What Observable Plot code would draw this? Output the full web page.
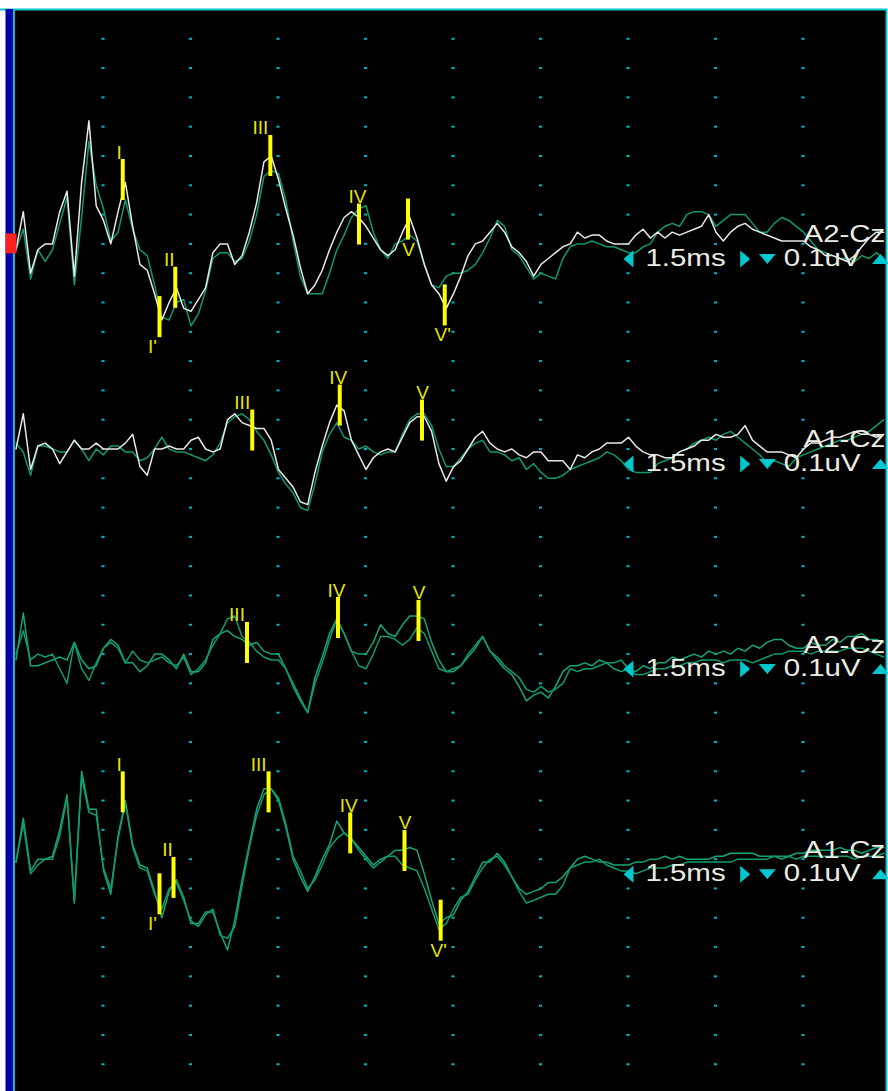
<!DOCTYPE html>
<html><head><meta charset="utf-8">
<script src="https://cdn.jsdelivr.net/npm/d3@7"></script>
<script src="https://cdn.jsdelivr.net/npm/@observablehq/plot@0.6"></script>
<style>html,body{margin:0;padding:0;background:#fff;} svg{display:block;}</style>
</head><body><div id="chart"></div>
<script>
// ---- data ----
const sampleStepMs = 0.125;               // sample interval (ms)
const channelNames = ["A2-Cz", "A1-Cz", "A2-Cz", "A1-Cz"];
const channelOffsets = [0.8, 1.5, 2.2, 2.9]; // display offset of each channel baseline (µV, 0.1 µV/div)
const timebaseLabel = "1.5ms";
const sensitivityLabel = "0.1uV";
const gridTimes = [1.5, 3, 4.5, 6, 7.5, 9, 10.5, 12, 13.5];

// amplitudes in µV, one value every 0.125 ms
const ch1White = [
-0.02,0.11,-0.10,-0.02,0.00,0.00,0.11,0.18,-0.11,0.21,
0.42,0.13,0.08,0.00,0.11,0.21,0.06,-0.07,-0.09,-0.17,
-0.26,-0.20,-0.15,-0.22,-0.23,-0.19,-0.15,-0.03,0.00,0.00,
-0.07,-0.04,0.04,0.14,0.28,0.30,0.22,0.12,0.03,-0.08,
-0.17,-0.14,-0.09,-0.02,0.04,0.09,0.11,0.09,0.06,0.02,
-0.02,-0.04,-0.02,0.04,0.09,0.02,-0.07,-0.14,-0.17,-0.22,
-0.17,-0.11,-0.04,0.00,0.01,0.04,0.07,0.04,-0.01,-0.03,
-0.06,-0.11,-0.07,-0.05,-0.03,-0.01,0.00,0.04,0.02,0.03,
0.03,0.01,0.00,0.00,0.00,0.03,0.05,0.02,0.04,0.02,
0.04,0.03,0.04,0.05,0.06,0.10,0.04,0.01,0.04,0.06,
0.07,0.05,0.04,0.03,0.02,0.01,0.01,0.01,0.01,-0.01,
-0.02,-0.04,-0.04,-0.05,-0.06,-0.04,-0.01,0.02,0.04,0.04];
const ch1Green = [
-0.02,0.05,-0.12,-0.02,-0.06,-0.02,0.07,0.16,-0.14,0.09,
0.35,0.20,0.12,0.01,0.04,0.15,0.05,-0.02,-0.04,-0.14,
-0.25,-0.26,-0.20,-0.19,-0.28,-0.24,-0.16,-0.05,-0.03,-0.03,
-0.06,-0.05,0.01,0.10,0.23,0.25,0.24,0.15,0.01,-0.11,
-0.17,-0.17,-0.17,-0.10,-0.02,0.03,0.09,0.12,0.13,0.04,
-0.02,-0.05,0.00,0.01,0.03,0.01,-0.07,-0.14,-0.15,-0.11,
-0.10,-0.10,-0.09,-0.07,-0.03,0.02,0.08,0.06,-0.02,-0.04,
-0.08,-0.12,-0.10,-0.11,-0.12,-0.05,-0.01,0.00,0.00,0.01,
0.00,-0.01,-0.01,-0.02,-0.03,-0.03,-0.01,0.00,0.04,0.06,
0.07,0.06,0.10,0.11,0.11,0.10,0.06,0.08,0.10,0.10,
0.10,0.07,0.04,0.04,0.07,0.09,0.08,0.06,0.04,0.01,
-0.02,-0.03,-0.04,-0.05,-0.05,-0.06,-0.04,-0.05,-0.03,-0.05];
const ch2White = [
0.00,0.12,-0.07,0.01,0.02,0.00,-0.05,-0.01,0.03,0.00,
0.00,0.02,0.00,0.00,0.00,0.02,0.05,-0.06,-0.09,0.00,
0.00,0.01,0.00,0.00,0.03,0.04,0.00,-0.01,0.00,0.10,
0.12,0.09,0.08,0.07,0.07,0.03,-0.07,-0.10,-0.13,-0.18,
-0.19,-0.08,0.01,0.09,0.15,0.13,0.03,-0.02,-0.07,-0.03,
-0.01,0.00,-0.01,0.04,0.09,0.11,0.11,0.06,-0.05,-0.11,
-0.06,-0.04,0.00,0.04,0.06,0.02,0.00,-0.01,0.00,-0.02,
-0.03,-0.01,-0.01,-0.04,-0.04,-0.04,-0.07,-0.02,-0.03,-0.01,
0.00,0.02,0.02,0.02,0.04,0.01,-0.01,-0.02,-0.02,-0.03,
-0.03,-0.01,0.00,0.01,0.03,0.03,0.05,0.04,0.04,0.05,
0.08,0.03,0.01,-0.01,-0.01,-0.01,-0.02,-0.03,0.00,0.02,
0.02,0.03,0.04,0.04,0.05,0.06,0.05,0.05,0.04,0.05];
const ch2Green = [
0.02,-0.01,-0.09,0.01,0.01,0.00,-0.01,-0.01,0.03,0.00,
-0.04,0.00,-0.02,0.01,0.01,-0.01,-0.01,-0.04,-0.03,0.00,
0.04,0.00,-0.01,-0.01,-0.02,-0.03,-0.04,-0.02,0.02,0.09,
0.11,0.12,0.10,0.06,0.03,-0.02,-0.08,-0.12,-0.15,-0.20,
-0.21,-0.12,-0.01,0.05,0.09,0.04,0.03,0.00,0.01,-0.01,
-0.02,-0.01,-0.01,0.05,0.10,0.12,0.12,0.08,0.00,-0.06,
-0.06,-0.03,0.00,0.02,0.03,-0.01,-0.01,-0.02,-0.04,-0.03,
-0.07,-0.05,-0.08,-0.10,-0.10,-0.09,-0.07,-0.06,-0.05,-0.04,
-0.03,-0.01,-0.02,-0.04,-0.07,-0.08,-0.08,-0.08,-0.05,-0.04,
-0.03,-0.01,0.00,0.02,0.03,0.04,0.03,0.05,0.06,0.04,
0.02,0.00,-0.02,-0.05,-0.04,-0.05,-0.06,-0.03,-0.02,-0.01,
0.00,0.01,0.02,0.03,0.03,0.04,0.05,0.06,0.08,0.10];
const ch3RunA = [
-0.02,0.14,-0.04,-0.04,-0.03,-0.02,-0.01,-0.02,0.04,-0.02,
-0.05,-0.04,0.02,0.05,0.03,-0.03,-0.03,-0.06,-0.04,0.00,
0.00,-0.02,-0.05,0.00,-0.06,-0.06,-0.03,0.05,0.07,0.08,
0.06,0.05,0.03,0.04,0.01,0.00,0.00,-0.05,-0.11,-0.16,
-0.20,-0.08,-0.01,0.07,0.12,0.07,0.01,0.00,0.00,0.04,
0.10,0.07,0.06,0.10,0.13,0.13,0.12,0.04,-0.02,-0.06,
-0.06,-0.04,-0.01,0.02,0.06,0.01,-0.02,-0.05,-0.07,-0.11,
-0.16,-0.14,-0.13,-0.15,-0.11,-0.06,-0.04,-0.04,-0.03,-0.04,
-0.02,-0.03,-0.05,-0.06,-0.05,-0.06,-0.04,-0.05,-0.03,-0.03,
-0.01,-0.02,-0.01,0.00,-0.01,0.01,0.00,0.01,0.00,0.02,
0.01,0.03,0.02,0.04,0.05,0.05,0.03,0.02,0.02,0.04,
0.03,0.03,0.05,0.04,0.06,0.06,0.07,0.05,0.05,0.04];
const ch3RunB = [
0.00,0.08,-0.02,0.00,-0.01,0.00,-0.05,-0.10,0.04,-0.05,
-0.09,-0.03,0.02,0.04,0.02,-0.03,0.01,-0.02,-0.03,-0.02,
-0.01,-0.03,-0.04,-0.01,-0.07,-0.05,-0.02,0.03,0.07,0.12,
0.13,0.06,0.04,0.01,-0.01,-0.02,-0.02,-0.05,-0.10,-0.15,
-0.20,-0.10,-0.03,0.05,0.12,0.07,0.01,-0.04,-0.05,0.00,
0.06,0.06,0.05,0.03,0.05,0.09,0.07,0.01,-0.05,-0.06,
-0.05,-0.04,0.00,0.03,0.06,0.01,-0.01,-0.04,-0.06,-0.08,
-0.12,-0.13,-0.11,-0.13,-0.12,-0.10,-0.05,-0.06,-0.05,-0.05,
-0.04,-0.03,-0.03,-0.02,-0.05,-0.07,-0.07,-0.06,-0.05,-0.05,
-0.04,-0.04,-0.03,-0.03,-0.02,-0.02,-0.02,-0.03,-0.02,-0.02,
-0.02,-0.03,-0.02,-0.01,0.00,0.00,0.01,0.01,0.01,0.00,
0.01,0.01,0.01,0.01,0.02,0.02,0.02,0.01,0.00,-0.01];
const ch4RunA = [
-0.01,0.14,-0.04,0.00,0.00,0.01,0.10,0.22,-0.15,0.30,
0.17,0.17,-0.04,-0.12,0.08,0.20,0.05,-0.02,-0.03,-0.11,
-0.20,-0.11,-0.07,-0.13,-0.22,-0.22,-0.18,-0.18,-0.25,-0.31,
-0.21,-0.07,0.05,0.17,0.24,0.24,0.20,0.11,0.00,-0.06,
-0.11,-0.06,0.00,0.05,0.13,0.09,0.07,0.04,0.01,-0.02,
0.00,0.01,0.03,0.03,0.04,0.03,-0.05,-0.14,-0.22,-0.20,
-0.19,-0.14,-0.11,-0.06,-0.01,-0.01,0.02,-0.01,-0.06,-0.10,
-0.12,-0.11,-0.10,-0.08,-0.08,-0.06,-0.03,0.00,0.01,0.00,
-0.01,-0.01,-0.02,-0.02,-0.02,-0.01,-0.01,0.00,0.00,0.01,
0.00,0.01,0.00,0.00,0.00,0.00,0.01,0.01,0.02,0.02,
0.02,0.02,0.01,0.01,0.01,0.00,0.01,0.02,0.02,0.03,
0.03,0.03,0.03,0.04,0.03,0.03,0.02,0.03,0.04,0.04];
const ch4RunB = [
-0.01,0.12,-0.05,-0.02,0.00,0.00,0.08,0.21,-0.14,0.28,
0.16,0.15,-0.03,-0.10,0.07,0.19,0.04,-0.03,-0.04,-0.12,
-0.17,-0.10,-0.08,-0.14,-0.21,-0.23,-0.19,-0.17,-0.26,-0.27,
-0.23,-0.09,0.04,0.15,0.22,0.24,0.21,0.12,0.01,-0.04,
-0.10,-0.07,-0.02,0.04,0.07,0.09,0.07,0.03,0.00,-0.03,
-0.01,0.01,0.01,-0.02,-0.03,-0.04,-0.10,-0.17,-0.24,-0.22,
-0.17,-0.13,-0.12,-0.07,-0.03,0.00,0.01,-0.02,-0.06,-0.11,
-0.15,-0.14,-0.13,-0.12,-0.12,-0.09,-0.03,-0.02,-0.01,-0.01,
0.00,-0.02,-0.03,-0.04,-0.04,-0.05,-0.04,-0.03,-0.03,-0.03,
-0.02,-0.02,-0.01,-0.01,-0.01,-0.01,-0.01,-0.01,-0.01,0.00,
0.00,0.00,0.00,0.00,0.01,0.01,0.01,0.00,0.01,0.01,
0.01,0.01,0.01,0.01,0.01,0.00,0.01,0.01,0.01,0.02];

// peak markers: channel index, label, latency (ms), amplitude (µV), label side
const markerChannel = [0,0,0,0,0,0,0, 1,1,1, 2,2,2, 3,3,3,3,3,3,3];
const markerLabel   = ["I","I'","II","III","IV","V","V'", "III","IV","V", "III","IV","V", "I","I'","II","III","IV","V","V'"];
const markerLatency = [1.83,2.46,2.73,4.36,5.88,6.72,7.35, 4.05,5.55,6.96, 3.96,5.52,6.90, 1.83,2.46,2.70,4.33,5.73,6.66,7.28];
const markerAmp     = [0.218,-0.25,-0.15,0.30,0.066,0.083,-0.21, 0.063,0.148,0.097, 0.038,0.123,0.113, 0.228,-0.12,-0.064,0.228,0.088,0.028,-0.21];
const markerSide    = ["above","below","above","above","above","below","below", "above","above","above", "above","above","above", "above","below","above","above","above","above","below"];

// ---- build tables ----
const traces = [
  {ch: 0, run: "ch1-white", color: "white", values: ch1White},
  {ch: 0, run: "ch1-green", color: "green", values: ch1Green},
  {ch: 1, run: "ch2-white", color: "white", values: ch2White},
  {ch: 1, run: "ch2-green", color: "green", values: ch2Green},
  {ch: 2, run: "ch3-a", color: "green2", values: ch3RunA},
  {ch: 2, run: "ch3-b", color: "green3", values: ch3RunB},
  {ch: 3, run: "ch4-a", color: "green2", values: ch4RunA},
  {ch: 3, run: "ch4-b", color: "green3", values: ch4RunB}
];
const rows = traces.flatMap(tr => tr.values.map((v, i) => ({
  t: i * sampleStepMs, y: v - channelOffsets[tr.ch], run: tr.run, color: tr.color
})));
const markers = markerLabel.map((label, i) => ({
  label, t: markerLatency[i], y: markerAmp[i] - channelOffsets[markerChannel[i]], side: markerSide[i]
}));
const channels = channelNames.map((name, i) => ({name, y: -channelOffsets[i]}));
const gridDots = gridTimes.flatMap(t => d3.range(1, 37).map(k => ({t, y: -k * 0.1})));

// ---- styles ----
const CYAN = "#00c8d0", DOT = "#00b4bc", YEL = "#ffff00", TXT = "#ecece0";
const traceColor = {white: "#e8e8e8", green: "#0b9b6c", green2: "#13a676", green3: "#0d9c6e"};
const barHalf = 0.07;
const labelShift = {"I": -3.5, "I'": -7, "II": -6, "III": -10, "IV": -1.5, "V": 0.5, "V'": -2};
// flat isosceles triangle, scaled by the symbol size
const flatTriangle = {draw(ctx, size) {
  const k = Math.sqrt(size / (Math.PI * 4.5 * 4.5));
  ctx.moveTo(0, -5 * k); ctx.lineTo(8.5 * k, 5 * k); ctx.lineTo(-8.5 * k, 5 * k); ctx.closePath();
}};
const font = "Liberation Sans, Arial, sans-serif";

const labelMarks = Object.entries(labelShift).flatMap(([name, dx]) => [
  Plot.text(markers.filter(d => d.label === name && d.side === "above"),
    {x: "t", y: d => d.y + barHalf, text: "label", dx, dy: -1, lineAnchor: "bottom",
     fill: "#e4e400", fontSize: 19, fontFamily: font}),
  Plot.text(markers.filter(d => d.label === name && d.side === "below"),
    {x: "t", y: d => d.y - barHalf, text: "label", dx, dy: 2, lineAnchor: "top",
     fill: "#e4e400", fontSize: 19, fontFamily: font})
]);
const tri = (xms, rotate) => Plot.dot(channels, {x: () => xms, y: "y", dy: 15, r: 4.5,
  symbol: flatTriangle, rotate, fill: CYAN, stroke: "none"});

const chart = Plot.plot({
  width: 888, height: 1091,
  marginTop: 9, marginLeft: 5, marginRight: 2, marginBottom: 0,
  x: {domain: [0, 15], range: [15.5, 890.5], axis: null},
  y: {domain: [0, -3.693], range: [9, 1091], axis: null},
  style: {background: "white", overflow: "hidden"},
  marks: [
    Plot.frame({fill: "black", insetLeft: 9}),
    Plot.frame({stroke: CYAN, strokeWidth: 2, insetLeft: -20, insetBottom: -5}),
    Plot.ruleY(gridDots, {y: "y", x1: d => d.t - 0.027, x2: d => d.t + 0.027, stroke: DOT, strokeWidth: 2}),
    Plot.line(rows.filter(d => d.color !== "white"), {x: "t", y: "y", z: "run",
      stroke: d => traceColor[d.color], strokeWidth: 1.5, strokeLinejoin: "round"}),
    Plot.line(rows.filter(d => d.color === "white"), {x: "t", y: "y", z: "run",
      stroke: traceColor.white, strokeWidth: 1.5, strokeLinejoin: "round"}),
    Plot.ruleX(markers, {x: "t", y1: d => d.y - barHalf, y2: d => d.y + barHalf, stroke: YEL, strokeWidth: 4}),
    ...labelMarks,
    Plot.ruleX([0], {dx: -6.5, stroke: "#0000a8", strokeWidth: 8}),
    Plot.ruleX([0], {dx: -2, stroke: CYAN, strokeWidth: 1.5}),
    Plot.ruleX([channelOffsets[0]], {x: () => 0, y1: d => -d + 0.034, y2: d => -d - 0.034, dx: -5, stroke: "#ff2020", strokeWidth: 11}),
    Plot.text(channels, {x: () => 13.5, y: "y", text: "name", textAnchor: "start", lineAnchor: "bottom", dy: -1.5,
      fill: TXT, fontSize: 23, fontFamily: font}),
    Plot.text(channels, {x: () => 10.79, y: "y", text: () => timebaseLabel, textAnchor: "start", lineAnchor: "bottom", dy: 22,
      fill: TXT, fontSize: 23, fontFamily: font}),
    Plot.text(channels, {x: () => 13.16, y: "y", text: () => sensitivityLabel, textAnchor: "start", lineAnchor: "bottom", dy: 22,
      fill: TXT, fontSize: 23, fontFamily: font}),
    tri(10.5, -90), tri(12.5, 90), tri(12.88, 180), tri(14.82, 0)
  ]
});
document.getElementById("chart").appendChild(chart);
// horizontally widen the device-style annotation text
const stretch = new Set([...channelNames, timebaseLabel, sensitivityLabel]);
chart.querySelectorAll("text").forEach(t => {
  if (stretch.has(t.textContent)) {
    const w = t.getComputedTextLength();
    t.setAttribute("textLength", (w * 1.28).toFixed(1));
    t.setAttribute("lengthAdjust", "spacingAndGlyphs");
  }
});
</script>
</body></html>
